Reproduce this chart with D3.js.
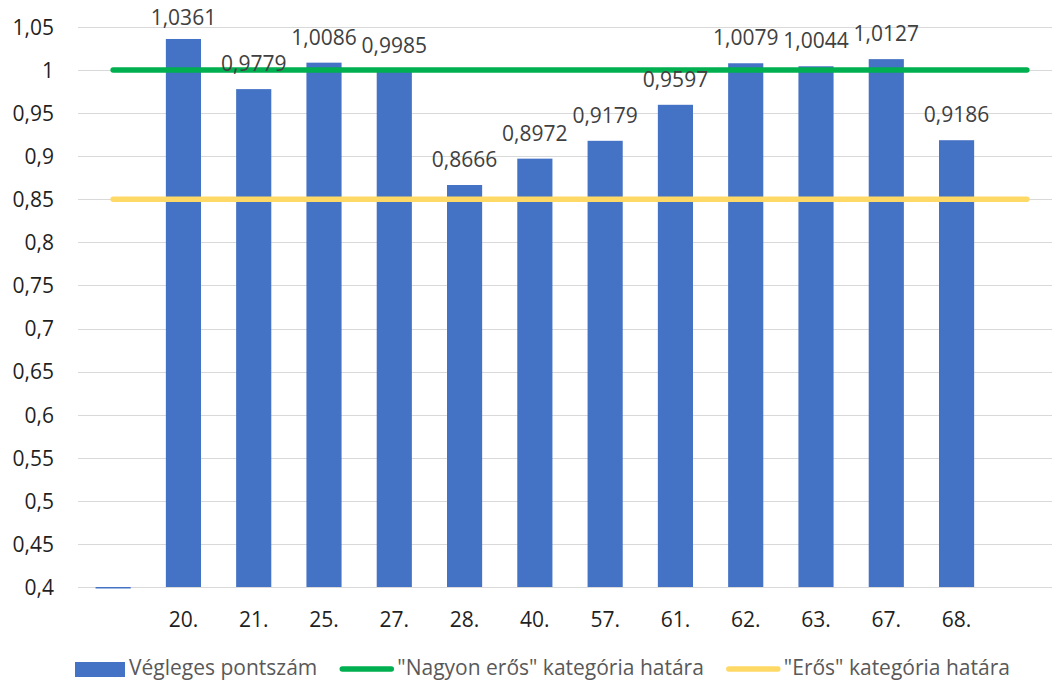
<!DOCTYPE html>
<html>
<head>
<meta charset="utf-8">
<script src="https://cdn.jsdelivr.net/npm/d3@7"></script>
<style>
  body { margin: 0; background: #fff; }
  svg { display: block; font-family: "Open Sans", "Noto Sans", sans-serif; }
</style>
</head>
<body>
<div id="chart"></div>
<script>
// data
const categories = ["", "20.", "21.", "25.", "27.", "28.", "40.", "57.", "61.", "62.", "63.", "67.", "68.", ""];
const scores = [0, 1.0361, 0.9779, 1.0086, 0.9985, 0.8666, 0.8972, 0.9179, 0.9597, 1.0079, 1.0044, 1.0127, 0.9186, null];
const veryStrong = [1, 1, 1, 1, 1, 1, 1, 1, 1, 1, 1, 1, 1, 1];
const strong = [0.85, 0.85, 0.85, 0.85, 0.85, 0.85, 0.85, 0.85, 0.85, 0.85, 0.85, 0.85, 0.85, 0.85];
const yTicks = [0.4, 0.45, 0.5, 0.55, 0.6, 0.65, 0.7, 0.75, 0.8, 0.85, 0.9, 0.95, 1, 1.05];
const seriesNames = ["Végleges pontszám", "\"Nagyon erős\" kategória határa", "\"Erős\" kategória határa"];

const colors = { bar: "#4472C4", green: "#00B050", yellow: "#FFD966", grid: "#D9D9D9" };

// container
const width = 1052;
const height = 680;

const svg = d3.select('#chart')
    .append('svg')
    .attr('width', width)
    .attr('height', height);

const plot = { left: 78, right: 1062, top: 27, bottom: 587 };

const fmt = v => String(v).replace('.', ',');

// scales
const xScale = d3.scaleBand()
    .domain(d3.range(categories.length))
    .range([plot.left, plot.right])
    .paddingInner(0.5)
    .paddingOuter(0.25);

const yScale = d3.scaleLinear()
    .domain([0.4, 1.05])
    .range([plot.bottom, plot.top]);

const cx = i => xScale(i) + xScale.bandwidth() / 2;

// gridlines
svg.append('g')
    .selectAll('line')
    .data(yTicks)
    .join('line')
    .attr('x1', plot.left)
    .attr('x2', plot.right)
    .attr('y1', d => Math.round(yScale(d)) + 0.5)
    .attr('y2', d => Math.round(yScale(d)) + 0.5)
    .attr('stroke', colors.grid)
    .attr('stroke-width', 1);

// y axis
const yAxis = d3.axisLeft(yScale)
    .tickValues(yTicks)
    .tickFormat(fmt)
    .tickSize(0)
    .tickPadding(0);

const yAxisGroup = svg.append('g')
    .attr('transform', `translate(54,0)`)
    .call(yAxis);
yAxisGroup.select('.domain').remove();
yAxisGroup.selectAll('text')
    .attr('font-size', 21)
    .attr('font-family', '"Open Sans", "Noto Sans", sans-serif')
    .attr('fill', '#1f1f1f')
    .attr('dy', '0.35em');

// x axis labels
const xAxis = d3.axisBottom(xScale)
    .tickFormat(i => categories[i])
    .tickSize(0)
    .tickPadding(0);

const xAxisGroup = svg.append('g')
    .attr('transform', `translate(0,${plot.bottom})`)
    .call(xAxis);
xAxisGroup.select('.domain').remove();
xAxisGroup.selectAll('text')
    .attr('font-size', 21)
    .attr('font-family', '"Open Sans", "Noto Sans", sans-serif')
    .attr('fill', '#1f1f1f')
    .attr('dy', 0)
    .attr('y', 40);

// bars
const barData = scores.map((v, i) => ({ i, v })).filter(d => d.v !== null);

svg.append('g')
    .selectAll('rect')
    .data(barData)
    .join('rect')
    .attr('x', d => xScale(d.i))
    .attr('width', xScale.bandwidth())
    .attr('y', d => d.v < yScale.domain()[0] ? plot.bottom : yScale(d.v))
    .attr('height', d => d.v < yScale.domain()[0] ? 1.5 : plot.bottom - yScale(d.v))
    .attr('fill', colors.bar);

// threshold lines
const line = d3.line()
    .x((d, i) => cx(i))
    .y(d => yScale(d));

svg.append('path')
    .datum(veryStrong)
    .attr('d', line)
    .attr('fill', 'none')
    .attr('stroke', colors.green)
    .attr('stroke-width', 5.5)
    .attr('stroke-linecap', 'round');

svg.append('path')
    .datum(strong)
    .attr('d', line)
    .attr('fill', 'none')
    .attr('stroke', colors.yellow)
    .attr('stroke-width', 5.5)
    .attr('stroke-linecap', 'round');

// data labels
svg.append('g')
    .selectAll('text')
    .data(barData.filter(d => d.v >= yScale.domain()[0]))
    .join('text')
    .attr('x', d => cx(d.i))
    .attr('y', d => Math.max(yScale(d.v) - 18, 25))
    .attr('text-anchor', 'middle')
    .attr('font-size', 21)
    .attr('fill', '#404040')
    .text(d => fmt(d.v));

// legend
const legend = svg.append('g')
    .attr('transform', 'translate(75,675)');

let lx = 0;
seriesNames.forEach((name, k) => {
    if (k === 0) {
        legend.append('rect')
            .attr('x', lx).attr('y', -13)
            .attr('width', 50).attr('height', 15)
            .attr('fill', colors.bar);
        lx += 54;
    } else {
        legend.append('line')
            .attr('x1', lx + 3).attr('x2', lx + 52)
            .attr('y1', -6).attr('y2', -6)
            .attr('stroke', k === 1 ? colors.green : colors.yellow)
            .attr('stroke-width', 5.5)
            .attr('stroke-linecap', 'round');
        lx += 58;
    }
    const t = legend.append('text')
        .attr('x', lx)
        .attr('y', 0)
        .attr('font-size', 21)
        .attr('fill', '#595959')
        .text(name);
    lx += t.node().getComputedTextLength() + 22;
});
</script>
</body>
</html>
